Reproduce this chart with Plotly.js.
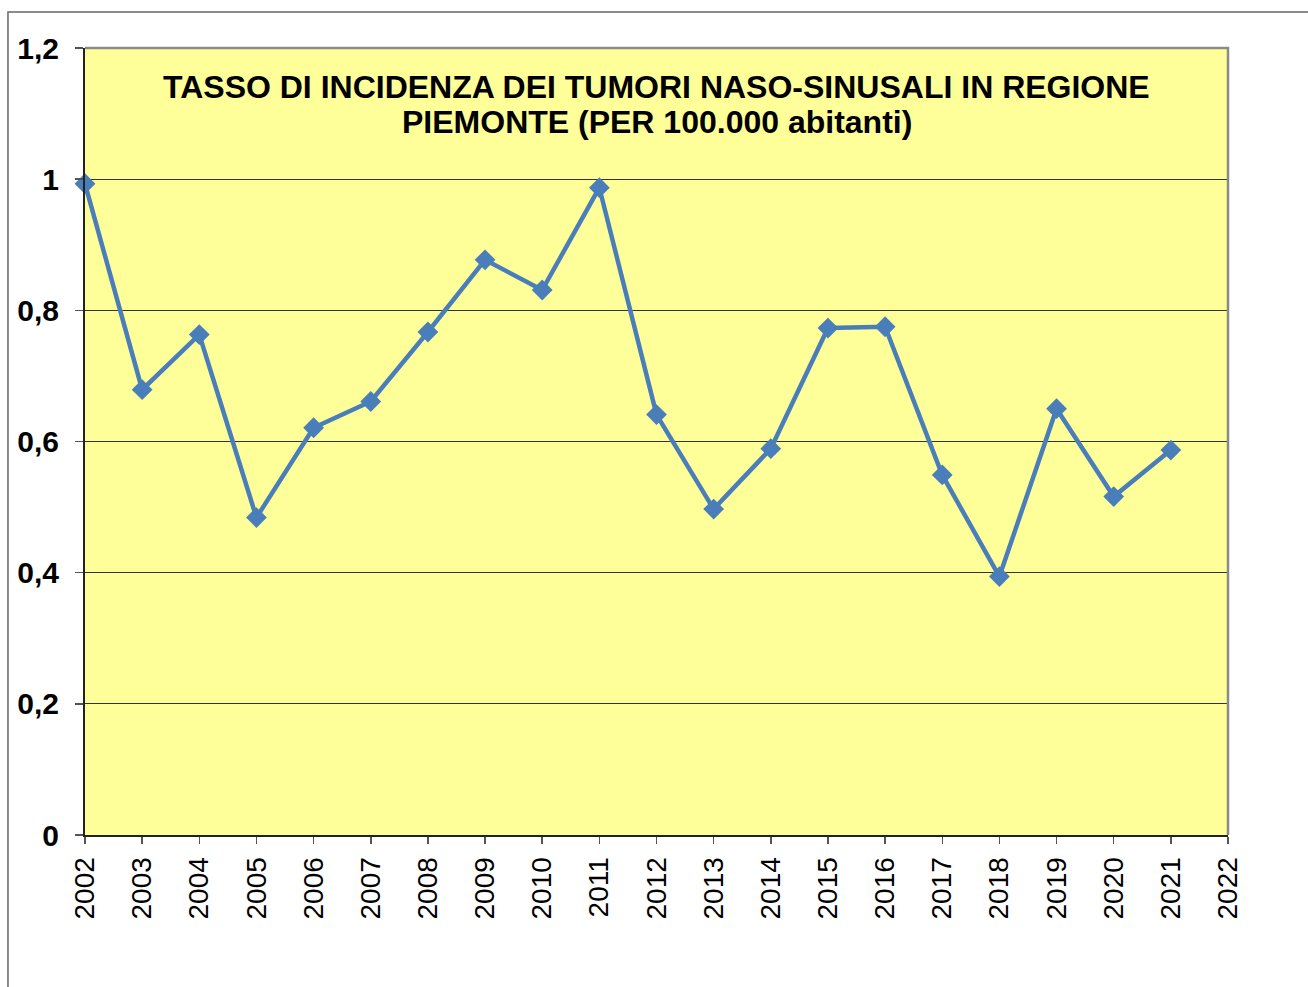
<!DOCTYPE html>
<html>
<head>
<meta charset="utf-8">
<script src="https://cdn.plot.ly/plotly-3.0.1.min.js"></script>
<style>
html,body{margin:0;padding:0;background:#fff;}
#chart{width:1308px;height:987px;}
</style>
</head>
<body>
<div id="chart"></div>
<script>
const years = [2002,2003,2004,2005,2006,2007,2008,2009,2010,2011,2012,2013,2014,2015,2016,2017,2018,2019,2020,2021];
const rates = [0.993,0.679,0.763,0.484,0.621,0.661,0.767,0.877,0.831,0.987,0.641,0.497,0.589,0.773,0.775,0.549,0.394,0.650,0.516,0.587];
const xTicks = [2002,2003,2004,2005,2006,2007,2008,2009,2010,2011,2012,2013,2014,2015,2016,2017,2018,2019,2020,2021,2022];
const yTicks = [0,0.2,0.4,0.6,0.8,1,1.2];
const titleLines = ["TASSO DI INCIDENZA DEI TUMORI NASO-SINUSALI IN REGIONE", "PIEMONTE (PER 100.000 abitanti)"];

const FONT = "Liberation Sans, Arial, sans-serif";

const trace = {
  x: years,
  y: rates,
  type: 'scatter',
  mode: 'lines+markers',
  line: {color: '#4A7EBB', width: 4.5},
  marker: {symbol: 'diamond', size: 16, color: '#4A7EBB', line: {width: 0}},
  hoverinfo: 'x+y',
  cliponaxis: false
};

const layout = {
  width: 1308,
  height: 987,
  margin: {l: 85, r: 80, t: 48, b: 152, pad: 0},
  paper_bgcolor: '#ffffff',
  plot_bgcolor: '#FFFF99',
  separators: ',.',
  showlegend: false,
  font: {family: FONT, color: '#000'},
  xaxis: {
    range: [2002, 2022],
    tickvals: xTicks,
    ticktext: xTicks.map(String),
    tickangle: -90,
    ticks: 'outside',
    ticklen: 7,
    tickwidth: 1.5,
    tickcolor: '#555',
    showline: true,
    linecolor: '#222',
    linewidth: 2,
    showgrid: false,
    zeroline: false,
    tickfont: {family: FONT, size: 28, color: '#000'},
    ticklabelstandoff: 2,
    fixedrange: true
  },
  yaxis: {
    range: [0, 1.2],
    tickvals: yTicks,
    ticks: 'outside',
    ticklen: 8,
    tickwidth: 1.5,
    tickcolor: '#555',
    showline: true,
    linecolor: '#222',
    linewidth: 2,
    showgrid: true,
    gridcolor: '#333',
    gridwidth: 1,
    zeroline: false,
    tickfont: {family: FONT, size: 30, color: '#000', weight: 'bold'},
    ticklabelstandoff: 10,
    fixedrange: true
  },
  annotations: titleLines.map((t, i) => ({
    text: t,
    xref: 'paper', yref: 'paper',
    x: 0.5, y: 1,
    yshift: -39 - 35 * i,
    xanchor: 'center', yanchor: 'middle',
    showarrow: false,
    align: 'center',
    font: {family: FONT, size: 32, color: '#000', weight: 'bold'}
  })),
  shapes: [
    {type: 'path', xref: 'paper', yref: 'paper',
     path: 'M 0 1 L 1 1 L 1 0',
     line: {color: '#8a8a8a', width: 2.5}, layer: 'above'},
    {type: 'path', xref: 'paper', yref: 'paper',
     path: 'M -0.0674 -0.3 L -0.0674 1.0458 L 1.2 1.0458',
     line: {color: '#666', width: 1.5}, layer: 'above'}
  ]
};

Plotly.newPlot('chart', [trace], layout, {displayModeBar: false, staticPlot: true});
</script>
</body>
</html>
